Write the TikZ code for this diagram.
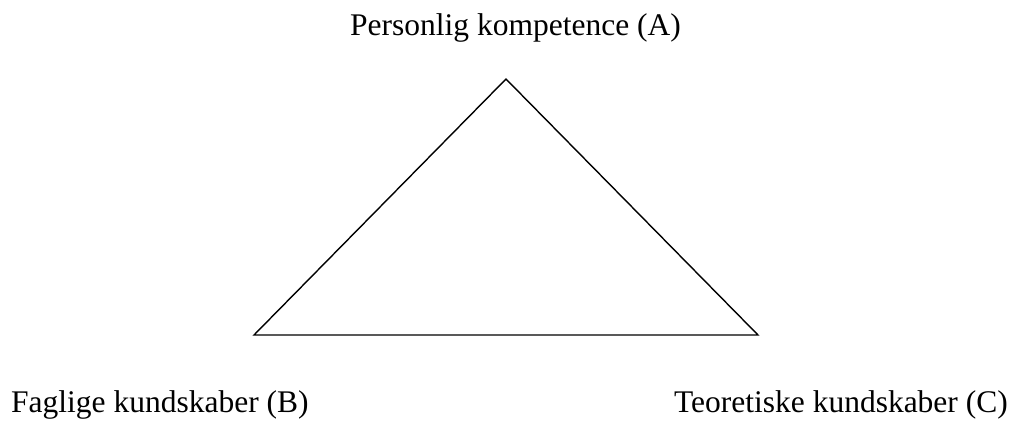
\documentclass[tikz,border=0pt]{standalone}
\usepackage{fontspec}
\setmainfont{Liberation Serif}
\begin{document}
\begin{tikzpicture}[x=1pt,y=-1pt,
  lbl/.style={inner sep=0pt,font=\fontsize{31.5}{38}\selectfont},
  edge/.style={draw=black,line width=1.4pt,line join=miter}]
\useasboundingbox (0,0) rectangle (1017,424);
\coordinate (A) at (506,79);
\coordinate (B) at (254,335);
\coordinate (C) at (758,335);
\draw[edge] (A) -- (B) -- (C) -- cycle;
\node[lbl,anchor=base] (la) at (515.5,35.5) {Personlig kompetence (A)};
\node[lbl,anchor=base west] (lb) at (11,412.5) {Faglige kundskaber (B)};
\node[lbl,anchor=base east] (lc) at (1008,412.5) {Teoretiske kundskaber (C)};
\end{tikzpicture}
\end{document}
